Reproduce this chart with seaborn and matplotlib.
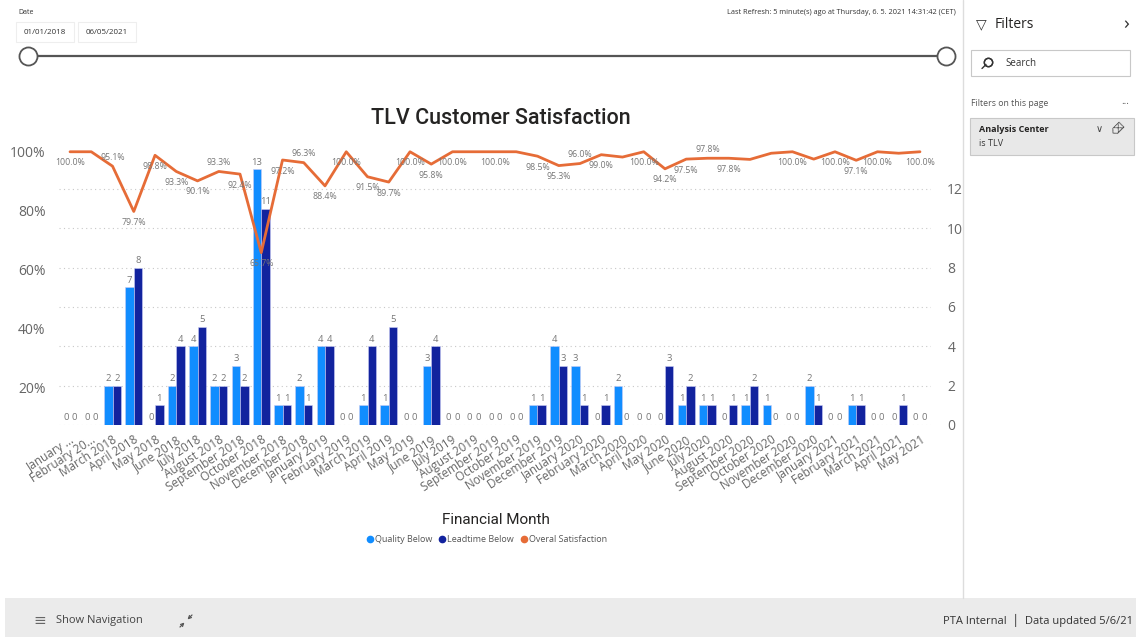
import numpy as np
import pandas as pd
import matplotlib
matplotlib.use("Agg")
import matplotlib.pyplot as plt
from matplotlib.lines import Line2D
from matplotlib.patches import Rectangle
import seaborn as sns

# ---------------------------------------------------------------- data
months = [
    "January 2018", "February 2018", "March 2018", "April 2018", "May 2018",
    "June 2018", "July 2018", "August 2018", "September 2018", "October 2018",
    "November 2018", "December 2018", "January 2019", "February 2019",
    "March 2019", "April 2019", "May 2019", "June 2019", "July 2019",
    "August 2019", "September 2019", "October 2019", "November 2019",
    "December 2019", "January 2020", "February 2020", "March 2020",
    "April 2020", "May 2020", "June 2020", "July 2020", "August 2020",
    "September 2020", "October 2020", "November 2020", "December 2020",
    "January 2021", "February 2021", "March 2021", "April 2021", "May 2021",
]
tick_labels = ["January ...", "February 20..."] + months[2:]

quality_below = [0, 0, 2, 7, 0, 2, 4, 2, 3, 13, 1, 2, 4, 0, 1, 1, 0, 3, 0, 0, 0,
                 0, 1, 4, 3, 0, 2, 0, 0, 1, 1, 0, 1, 1, 0, 2, 0, 1, 0, 0, 0]
leadtime_below = [0, 0, 2, 8, 1, 4, 5, 2, 2, 11, 1, 1, 4, 0, 4, 5, 0, 4, 0, 0, 0,
                  0, 1, 3, 1, 1, 0, 0, 3, 2, 1, 1, 2, 0, 0, 1, 0, 1, 0, 1, 0]
overall_satisfaction = [100.0, 100.0, 95.1, 79.7, 98.8, 93.3, 90.1, 93.3, 92.4,
                        65.7, 97.2, 96.3, 88.4, 100.0, 91.5, 89.7, 100.0, 95.8,
                        100.0, 100.0, 100.0, 100.0, 98.5, 95.3, 96.0, 99.0, 98.2,
                        100.0, 94.2, 97.5, 97.8, 97.8, 97.4, 99.5, 100.0, 97.5,
                        100.0, 97.1, 100.0, 99.5, 100.0]

# where each satisfaction value label sits: 1 above the point, -1 below, 0 hidden
label_side = [-1, 0, 1, -1, -1, -1, -1, 1, -1, -1, -1, 1, -1, -1, -1, -1, -1,
              -1, -1, 0, -1, 0, -1, -1, 1, -1, 0, -1, -1, -1, 1, -1, 0, 0, -1,
              0, -1, -1, -1, 0, -1]

series_names = ["Quality Below", "Leadtime Below", "Overal Satisfaction"]
colors = ["#118DFF", "#12239E", "#E66C37"]

# ---------------------------------------------------------------- style
W, H = 1136, 637
sns.set_theme(style="white")
plt.rcParams["font.family"] = ["Open Sans", "DejaVu Sans"]
GRAY = "#666666"
DARK = "#252423"


def px(x, y):
    """Pixel position (from top-left) to figure fraction."""
    return x / W, 1 - y / H


fig = plt.figure(figsize=(W / 100, H / 100), dpi=100)
fig.patch.set_facecolor("white")

# ---------------------------------------------------------------- chart
ax = fig.add_axes([59.4 / W, 1 - 425 / H, 871.2 / W, 285 / H])
ax.set_facecolor("none")
ax2 = ax.twinx()

df = pd.DataFrame({
    "Financial Month": months * 2,
    "Count": quality_below + leadtime_below,
    "Series": [series_names[0]] * len(months) + [series_names[1]] * len(months),
})
sns.barplot(data=df, x="Financial Month", y="Count", hue="Series",
            order=months, hue_order=series_names[:2], palette=colors[:2],
            saturation=1, width=0.8, legend=False, ax=ax,
            edgecolor="#c9cdf5", linewidth=0.4)
for cont in ax.containers:
    ax.bar_label(cont, fmt="%d", padding=2, fontsize=6.8, color="#777777")

# counts on the right-hand axis
ax.set_ylim(0, 14.49)
ax.set_xlim(-0.5, len(months) - 0.5)
ax.set_yticks(range(0, 13, 2))
ax.yaxis.tick_right()
ax.yaxis.set_label_position("right")
ax.tick_params(axis="y", length=0, pad=12, labelsize=10, labelcolor=GRAY)
ax.grid(axis="y", linestyle=(0, (1, 3)), color="#c8c8c8", linewidth=0.8)
ax.set_axisbelow(True)
ax.set_xlabel("")
ax.set_ylabel("")
ax.set_xticks(range(len(months)))
ax.set_xticklabels(tick_labels, rotation=33, ha="right",
                   rotation_mode="anchor", fontsize=8.5, color=GRAY)
ax.tick_params(axis="x", length=0, pad=6)
for s in ax.spines.values():
    s.set_visible(False)

# satisfaction percentage on the left-hand axis
sns.lineplot(x=np.arange(len(months)), y=overall_satisfaction, ax=ax2,
             color=colors[2], linewidth=2.0)
ax2.set_ylim(7.1, 104.0)
ax2.set_yticks([20, 40, 60, 80, 100])
ax2.set_yticklabels([f"{t}%" for t in [20, 40, 60, 80, 100]])
ax2.yaxis.tick_left()
ax2.yaxis.set_label_position("left")
ax2.tick_params(axis="y", length=0, pad=10, labelsize=10, labelcolor=GRAY)
ax2.grid(False)
ax2.set_ylabel("")
for s in ax2.spines.values():
    s.set_visible(False)

for i, (v, side) in enumerate(zip(overall_satisfaction, label_side)):
    if side == 0:
        continue
    ax2.annotate(f"{v:.1f}%", (i, v), xytext=(0, 6.5 if side > 0 else -8),
                 textcoords="offset points", ha="center", va="center",
                 fontsize=6.3, color="#777777")

# titles and legend
fig.text(*px(501, 118), "TLV Customer Satisfaction", ha="center", va="center",
         fontsize=15.5, color=DARK, family=["Roboto", "DejaVu Sans"],
         fontweight="medium")
fig.text(*px(496, 520), "Financial Month", ha="center", va="center",
         fontsize=11, color=DARK, family=["Roboto", "DejaVu Sans"])
handles = [Line2D([0], [0], marker="o", linestyle="none", markersize=4.5,
                  markerfacecolor=c, markeredgecolor=c) for c in colors]
fig.legend(handles, series_names, loc="center", bbox_to_anchor=px(486, 540),
           ncol=3, frameon=False, fontsize=6.5, handletextpad=0.05,
           columnspacing=0.6, handlelength=1.0, labelcolor="#555555")

# ---------------------------------------------------------------- report chrome
# date slicer
fig.text(*px(18, 13), "Date", fontsize=5, color="#333333", va="center")
for x0, txt in [(16, "01/01/2018"), (78, "06/05/2021")]:
    fig.add_artist(Rectangle(px(x0, 42), 58 / W, 20 / H, transform=fig.transFigure,
                             facecolor="white", edgecolor="#eeeeee", lw=0.8))
    fig.text(*px(x0 + 29, 32), txt, fontsize=5.8, color="#333333",
             ha="center", va="center")
x0, y0 = px(28, 56)
x1, _ = px(946, 56)
fig.add_artist(Line2D([x0, x1], [y0, y0], transform=fig.transFigure,
                      color="#555555", lw=1.6))
fig.add_artist(Line2D([x0, x1], [y0, y0], transform=fig.transFigure,
                      linestyle="none", marker="o", markersize=13,
                      markerfacecolor="white", markeredgecolor="#555555",
                      markeredgewidth=1.3))
fig.text(*px(956, 12), "Last Refresh: 5 minute(s) ago at Thursday, 6. 5. 2021 14:31:42 (CET)",
         fontsize=5.3, color="#333333", ha="right", va="center")

# filter pane
fig.add_artist(Line2D(*zip(px(963, 0), px(963, 598)), transform=fig.transFigure,
                      color="#dddddd", lw=1))
fig.text(*px(981, 24), "▽", fontsize=10, color="#333333", ha="center", va="center",
         family="DejaVu Sans")
fig.text(*px(995, 24), "Filters", fontsize=10, color=DARK, va="center")
fig.text(*px(1126, 24), "›", fontsize=14, color="#333333", ha="center", va="center")
fig.add_artist(Rectangle(px(971, 76), 159 / W, 26 / H, transform=fig.transFigure,
                         facecolor="white", edgecolor="#c8c8c8", lw=0.8))
fig.add_artist(Line2D(*zip(px(988, 62), px(988, 62)), transform=fig.transFigure,
                      marker="o", markersize=6, markerfacecolor="none",
                      markeredgecolor="#333333", markeredgewidth=1))
fig.add_artist(Line2D(*zip(px(986, 64.5), px(982, 68.5)), transform=fig.transFigure,
                      color="#333333", lw=1))
fig.text(*px(1005, 63), "Search", fontsize=7, color="#333333", va="center")
fig.text(*px(971, 103), "Filters on this page", fontsize=6.3, color="#555555",
         va="center")
fig.text(*px(1125, 102), "...", fontsize=7, color="#555555", ha="center",
         va="center")
fig.add_artist(Rectangle(px(970, 155), 164 / W, 37 / H, transform=fig.transFigure,
                         facecolor="#e8e8e8", edgecolor="#c8c8c8", lw=0.8))
fig.text(*px(979, 129), "Analysis Center", fontsize=6.5, color=DARK,
         fontweight="bold", va="center")
fig.text(*px(979, 144), "is TLV", fontsize=6.5, color="#333333", va="center")
fig.text(*px(1099, 129), "∨", fontsize=7, color="#444444", ha="center",
         va="center", family="DejaVu Sans")
fig.text(*px(1119, 129), "⌫", fontsize=7, color="#444444", ha="center",
         va="center", family="DejaVu Sans", rotation=45)

# navigation bar
fig.add_artist(Rectangle(px(5, 637), (W - 5) / W, 39 / H, transform=fig.transFigure,
                         facecolor="#ebebeb", edgecolor="none"))
fig.text(*px(40, 621), "≡", fontsize=11, color="#666666", ha="center",
         va="center", family="DejaVu Sans")
fig.text(*px(56, 621), "Show Navigation", fontsize=8, color="#444444", va="center")
# collapse icon: two arrows pointing towards the centre
arrow_style = dict(arrowstyle="->", color="#555555", lw=0.9,
                   shrinkA=0, shrinkB=0, mutation_scale=5)
fig.add_artist(matplotlib.patches.FancyArrowPatch(
    px(192, 615), px(187.5, 619.5), transform=fig.transFigure, **arrow_style))
fig.add_artist(matplotlib.patches.FancyArrowPatch(
    px(180, 627), px(184.5, 622.5), transform=fig.transFigure, **arrow_style))
fig.text(*px(1133, 620), "PTA Internal  │  Data updated 5/6/21", fontsize=8,
         color="#333333", ha="right", va="center")

fig.savefig("out.png", dpi=100, facecolor="white")
